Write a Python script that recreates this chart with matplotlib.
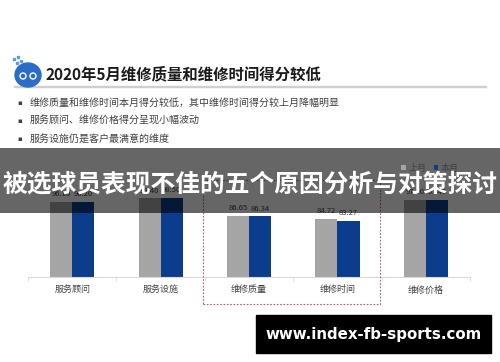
import matplotlib.pyplot as plt
from matplotlib.patches import Rectangle, Ellipse
import numpy as np

plt.rcParams['font.family'] = ['Noto Sans CJK SC', 'DejaVu Sans']

# data
categories = ["服务顾问", "服务设施", "维修质量", "维修时间", "维修价格"]
last_month = [96.1, 98.4, 86.65, 84.72, 97.2]
this_month = [96.2, 98.5, 86.34, 83.27, 97.4]
series_names = ["上月", "本月"]

title = "2020年5月维修质量和维修时间得分较低"
bullets = ["维修质量和维修时间本月得分较低，其中维修时间得分较上月降幅明显",
           "服务顾问、维修价格得分呈现小幅波动",
           "服务设施仍是客户最满意的维度"]
banner = "被选球员表现不佳的五个原因分析与对策探讨"
watermark = "www.index-fb-sports.com"

W, H = 500, 362
gray = "#a5a5a5"
blue = "#0c3c8c"


def fx(x):
    return x / W


def fy(y):
    return 1 - y / H


fig = plt.figure(figsize=(5, 3.62), dpi=100)

# chart area: baseline at y=277px, 1.5 px per point, min 46
ymin = 46
top_px = 137
ax = fig.add_axes([fx(28), fy(277), fx(470) - fx(28), (277 - top_px) / H])
ax.set_ylim(ymin, ymin + (277 - top_px) / 1.5)
ax.set_xlim(-0.5, 4.5)

x = np.arange(len(categories))
bw = 0.25
b1 = ax.bar(x - bw / 2, np.array(last_month) - ymin, bw, bottom=ymin, color=gray, label=series_names[0])
b2 = ax.bar(x + bw / 2, np.array(this_month) - ymin, bw, bottom=ymin, color=blue, label=series_names[1])
for bars, vals in ((b1, last_month), (b2, this_month)):
    for r, v in zip(bars, vals):
        ax.text(r.get_x() + r.get_width() / 2, v + 2.5, f"{v:.2f}", ha="center", va="bottom",
                fontsize=5.5, color="#404040")

for s in ["top", "right", "left"]:
    ax.spines[s].set_visible(False)
ax.spines["bottom"].set_color("#d9d9d9")
ax.set_yticks([])
ax.set_xticks(x)
ax.set_xticklabels(categories, fontsize=6.5, color="#404040")
ax.tick_params(axis="x", which="major", length=0, pad=6)
ax.set_xticks(np.arange(-0.5, 5, 1), minor=True)
ax.tick_params(axis="x", which="minor", length=3, color="#d9d9d9")

fig.legend(handles=[b1, b2], labels=series_names, loc="center", ncol=2,
           bbox_to_anchor=(fx(430), fy(168)), frameon=False, fontsize=6.5,
           handlelength=0.5, handleheight=0.5, handletextpad=0.3, columnspacing=0.8,
           labelcolor="#404040")

# dotted highlight box around 维修质量 / 维修时间
fig.add_artist(Rectangle((fx(203), fy(304)), fx(380) - fx(203), (304 - 180) / H,
                         transform=fig.transFigure, fill=False, edgecolor="#b06060",
                         linewidth=0.8, linestyle=(0, (1.5, 1.5)), zorder=1))

# header: logo, title, underline
fig.add_artist(Rectangle((fx(14), fy(87)), fx(486) - fx(14), 1.2 / H, transform=fig.transFigure,
                         color="#cfcfcf", zorder=1))
fig.add_artist(Ellipse((fx(28), fy(75)), 26 / W, 24 / H, transform=fig.transFigure,
                       color="#2a6cc8", zorder=2))
for cx in (23, 33):
    fig.add_artist(Ellipse((fx(cx), fy(76)), 6 / W, 6 / H, transform=fig.transFigure,
                           fill=False, edgecolor="white", linewidth=1, zorder=3))
for dx, dy in ((13, 60), (17, 58), (16, 64), (20, 62)):
    fig.add_artist(Rectangle((fx(dx), fy(dy)), 2 / W, 2 / H, transform=fig.transFigure,
                             color="#5aa0e0", zorder=3))
fig.text(fx(45), fy(74), title, fontsize=11.1, fontweight="bold", color="#1a1a1a", va="center")

for i, b in enumerate(bullets):
    y = [103, 121, 139][i]
    fig.text(fx(17), fy(y), "▪", fontsize=5, color="#404040", va="center", family="DejaVu Sans")
    fig.text(fx(30), fy(y), b, fontsize=7.2, color="#404040", va="center")

# overlay banner
fig.add_artist(Rectangle((0, fy(213)), 1, (213 - 148) / H, transform=fig.transFigure,
                         color="black", alpha=0.6, linewidth=0, zorder=5))
fig.text(0.5, fy(184), banner, fontsize=17.8, fontweight="bold", color="white",
         ha="center", va="center", zorder=6)

# watermark box
fig.add_artist(Rectangle((fx(256), fy(353)), fx(491) - fx(256), (353 - 315) / H,
                         transform=fig.transFigure, color="black", zorder=5))
fig.text(fx(374), fy(334), watermark, fontsize=10.8, fontweight="bold", color="white",
         ha="center", va="center", family="DejaVu Sans", zorder=6)

fig.savefig("out.png", dpi=100)
